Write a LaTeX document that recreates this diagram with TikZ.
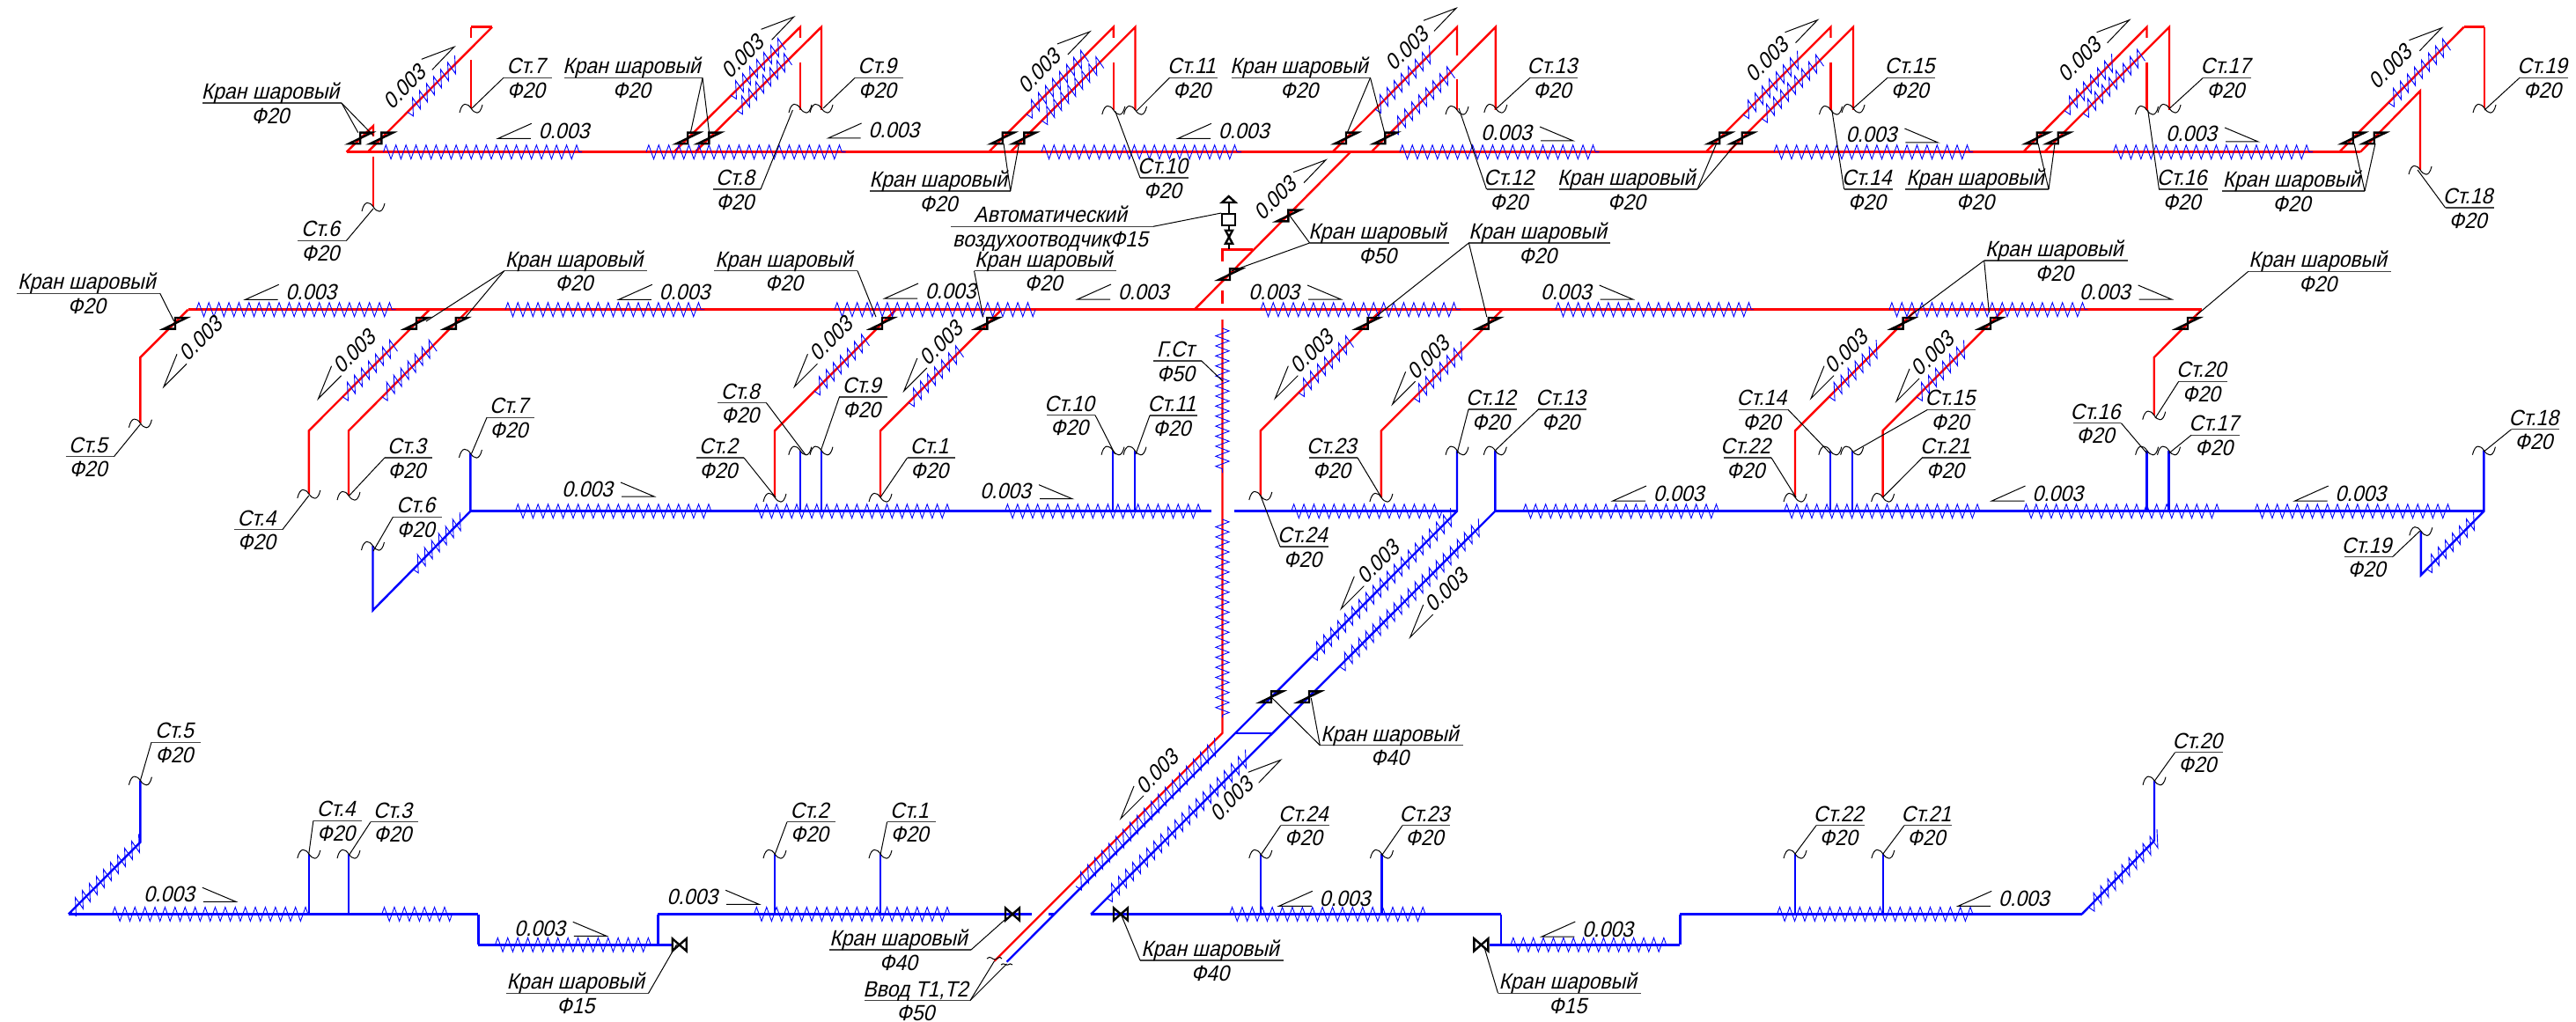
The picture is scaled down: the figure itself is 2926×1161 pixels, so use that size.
\documentclass[tikz,border=0pt]{standalone}
\usepackage{fontspec}
\usepackage{graphicx}
\setmainfont[FakeSlant=0.25]{Liberation Sans}
\usetikzlibrary{decorations.pathmorphing}
\newcounter{nn}
\definecolor{pr}{RGB}{255,0,0}
\definecolor{pb}{RGB}{0,0,255}
\newcommand\KS{Кран шаровый}
\newcommand\SL{\scalebox{0.92}[1]{0.003}}
\tikzset{
 rm/.style={pr,line width=3.4pt},
 rt/.style={pr,line width=2.4pt},
 bm/.style={pb,line width=3.4pt},
 bt/.style={pb,line width=2.4pt},
 hatch/.style={pb,line width=0.9pt},
 leader/.style={black,line width=1pt},
 shelfl/.style={black!75,line width=1.5pt},
 valve/.style={black,line width=2.4pt},
 txt/.style={inner sep=0pt,outer sep=0pt,text=black,font=\fontsize{25}{29}\selectfont},
}
% pipes of the top row
\newcommand\pL[2]{\draw[rt] (#1,172.7) -- (#2,30.7) -- (#2,43); \draw[rt] (#2,70.7) -- (#2,125);}
\newcommand\pR[2]{\draw[rt] (#1,172.7) -- (#2,30.7) -- (#2,125);}
% zigzags
\newcommand\zzh[3]{\draw[hatch,decorate,decoration={zigzag,segment length=11.4pt,amplitude=8pt}] (#1,#3) -- (#2,#3);}
\newcommand\zzv[3]{\draw[hatch,decorate,decoration={zigzag,segment length=11.4pt,amplitude=7.6pt}] (#1,#2) -- (#1,#3);}
\newcommand\zzd[3]{\pgfmathtruncatemacro\zn{round((#3-#1)/4)}%
 \draw[hatch] (#1,#2) \foreach \zi in {1,...,\zn}{ -- ({#1+\zi*4+2.5*(2*mod(\zi,2)-1)},{#2-\zi*4+8.5*(2*mod(\zi,2)-1)}) };}
% valves
\newcommand\vz[2]{\draw[valve,shift={(#1,#2)}] (13,-6.3) -- (0,-6.3) -- (0,6.3) -- (-13,6.3) -- cycle;}
\newcommand\vb[2]{\draw[valve,shift={(#1,#2)}] (-8,-7) -- (-8,7) -- (8,-7) -- (8,7) -- cycle;}
% pipe break
\newcommand\brk[2]{\draw[leader,shift={(#1,#2)}] (-13,5) .. controls (-10,-8) and (-4,-6) .. (0,0) .. controls (4,6) and (10,9) .. (13,-4);}
% shelf with two texts
\newcommand\shelf[6]{\coordinate (#1-l) at (#2,#4); \coordinate (#1-r) at (#3,#4);
 \draw[shelfl] (#1-l) -- (#1-r);
 \node[txt,anchor=base] (#1-t) at ({(#2+#3)/2-2},#4-4.5) {\scalebox{0.92}[1]{#5}};
 \node[txt,anchor=base] (#1-b) at ({(#2+#3)/2-2},#4+23.2) {\scalebox{0.92}[1]{#6}};}
\newcommand\lead[3]{\stepcounter{nn}\coordinate (e\arabic{nn}) at (#2,#3); \draw[leader] (#1) -- (e\arabic{nn});}
% slope marks
\newcommand\slL[2]{\stepcounter{nn}\draw[leader] (#1+38,#2-17) -- (#1,#2) -- (#1+37,#2);
 \node[txt,anchor=base west] (s\arabic{nn}) at (#1+46,#2) {\SL};}
\newcommand\slR[2]{\stepcounter{nn}\draw[leader] (#1-38,#2-16) -- (#1,#2) -- (#1-37,#2);
 \node[txt,anchor=base east] (s\arabic{nn}) at (#1-47,#2) {\SL};}
\newcommand\sdU[4]{\stepcounter{nn}\draw[leader] (#1-37,#2+14) -- (#1,#2) -- (#1-25,#2+26);
 \node[txt,rotate=45] (s\arabic{nn}) at (#3,#4) {\SL};}
\newcommand\sdD[4]{\stepcounter{nn}\draw[leader] (#1+15,#2-37) -- (#1,#2) -- (#1+26,#2-26);
 \node[txt,rotate=45] (s\arabic{nn}) at (#3,#4) {\SL};}
\begin{document}
\begin{tikzpicture}[x=1pt,y=-1pt,line join=miter]
\fill[white] (0,0) rectangle (2926,1161);
\useasboundingbox (0,0) rectangle (2926,1161);
% ===== top row: pipes
\draw[rm] (393.5,172.7) -- (2681,172.7);
\draw[rt] (393.5,172.7) -- (424,143) -- (424,155);
\draw[rt] (424,178) -- (424,235);
\draw[rt] (417.7,172.7) -- (559,30.7);
\draw[rm] (559,30.7) -- (535,30.7);
\draw[rt] (535,30.7) -- (535,43);
\draw[rt] (535,68.5) -- (535,123);
\pL{765.5}{909}\pR{789.6}{933}
\pL{1123}{1264.8}\pR{1147.7}{1289.5}
\draw[rt] (1513.4,172.7) -- (1655,30.7) -- (1655,63);
\draw[rt] (1655,90) -- (1655,125);
\pR{1557.6}{1698.8}
\pL{1937.5}{2079.5}\pR{1963}{2105}
\pL{2298}{2438.5}\pR{2322}{2464}
\draw[rt] (2657,172.7) -- (2798.7,30.7);
\draw[rm] (2798.7,30.7) -- (2822,30.7);
\draw[rt] (2822,30.7) -- (2822,123);
\draw[rt] (2681,172.7) -- (2749,103.3) -- (2749,193);
% main riser
\draw[rt] (1356.7,351.7) -- (1534,172.7);
\draw[rt] (1423.3,283.3) -- (1388.5,283.3) -- (1388.5,297);
\draw[rt] (1388.5,330) -- (1388.5,345);
\draw[rt] (1388.5,363) -- (1388.5,832.7) -- (1129.5,1091.7);
% ===== second row: red
\draw[rm] (213.6,351.7) -- (2500.8,351.7);
\draw[rt] (213.6,351.7) -- (159.4,406) -- (159.4,480.7);
\draw[rt] (487.9,351.7) -- (350.8,489.3) -- (350.8,561);
\draw[rt] (532.5,351.7) -- (396,489.3) -- (396,563);
\draw[rt] (1017.6,351.7) -- (880,489.3) -- (880,565);
\draw[rt] (1137.6,351.7) -- (1000,489.3) -- (1000,565);
\draw[rt] (1569.4,351.7) -- (1431.8,489.3) -- (1431.8,563);
\draw[rt] (1706.5,351.7) -- (1568.9,489.3) -- (1568.9,565);
\draw[rt] (2176.6,351.7) -- (2039,489.3) -- (2039,565);
\draw[rt] (2276.2,351.7) -- (2138.6,489.3) -- (2138.6,565);
\draw[rt] (2500.8,351.7) -- (2446.7,406) -- (2446.7,471.7);
% ===== third row: blue
\draw[bm] (534.4,580.7) -- (1376.3,580.7);
\draw[bm] (1401.8,580.7) -- (1655,580.7);
\draw[bm] (1698.3,580.7) -- (2821.4,580.7);
\draw[bt] (534.4,515) -- (534.4,580.7) -- (423.5,693.3) -- (423.5,620);
\foreach \px in {908.8,933,1264,1289,2078.8,2103.7,2438.6,2463.5} {\draw[bt] (\px,511.7) -- (\px,580.7);}
\draw[bt] (1655,511.7) -- (1655,580.7) -- (1143.5,1092.7);
\draw[bt] (1698.3,511.7) -- (1698.3,580.7) -- (1239,1038.7);
\draw[bt] (1403,832.7) -- (1446,832.7);
\draw[bt] (2821.4,511.7) -- (2821.4,580.7) -- (2749.8,653.3) -- (2749.8,603.3);
% ===== bottom row: blue
\draw[bm] (77.8,1038.5) -- (543.4,1038.5);
\draw[bt] (543.4,1038.5) -- (543.4,1073.3);
\draw[bm] (543.4,1073.3) -- (765,1073.3);
\draw[bt] (747.4,1073.3) -- (747.4,1038.5);
\draw[bm] (747.4,1038.5) -- (1172,1038.5);
\draw[bm] (1191,1038.5) -- (1197,1038.5);
\draw[bt] (77.8,1038.5) -- (159.4,956.7) -- (159.4,886.7);
\foreach \px in {350.8,396,880,1000,1431.8,1569.5,2039,2138.8} {\draw[bt] (\px,970) -- (\px,1038.5);}
\draw[bm] (1239,1038.5) -- (1704.7,1038.5);
\draw[bt] (1704.7,1038.5) -- (1704.7,1073.3);
\draw[bm] (1692,1073.3) -- (1908.4,1073.3);
\draw[bt] (1908.4,1073.3) -- (1908.4,1038.5);
\draw[bm] (1908.4,1038.5) -- (2364.6,1038.5);
\draw[bt] (2364.6,1038.5) -- (2447,955) -- (2447,886.7);
% ===== zigzags
\foreach \a/\b in {435.5/661,734/960.7,1183/1410,1590/1816.5,2015/2241,2400.5/2627} {\zzh{\a}{\b}{172.7}}
\foreach \a/\b in {223/449.6,574/800.4,948/1176,1432/1659,1767/1992,2146/2371.4} {\zzh{\a}{\b}{351.7}}
\foreach \a/\b in {585.5/811.2,856.5/1083,1141.6/1368.6,1466.8/1640,1730/1955,2026.6/2253,2298.6/2525.8,2561/2787} {\zzh{\a}{\b}{580.7}}
\foreach \a/\b in {127.6/352.7,433.7/518.5,856.5/1081.6,1396.7/1623.7,2018.6/2246} {\zzh{\a}{\b}{1038.5}}
\foreach \a/\b in {562.5/743,1716/1898} {\zzh{\a}{\b}{1073.3}}
\zzv{1388.5}{373}{537}
\zzv{1388.5}{590}{815}
\zzd{463}{127.4}{520.7}
\zzd{830}{108}{889}\zzd{837}{125.3}{895}
\zzd{1166}{129.7}{1235}\zzd{1183.3}{137}{1252}
\zzd{1562}{124}{1625}\zzd{1582}{148.3}{1648}
\zzd{1980}{130.2}{2043}\zzd{2001}{134.7}{2070}
\zzd{2345}{125.7}{2402}\zzd{2366}{128.7}{2432}
\zzd{2713}{116.7}{2779}
\zzd{389}{450.6}{449.6}\zzd{433.7}{450.6}{494}
\zzd{925}{444.3}{985}\zzd{1032}{457.3}{1092}
\zzd{1475}{446}{1536}\zzd{1606}{452.3}{1663}
\zzd{2077.6}{450.7}{2133.6}\zzd{2177}{450.9}{2233}
\zzd{468.7}{646.4}{526}\zzd{2756}{646}{2812}
\zzd{1490}{745.7}{1648}\zzd{1521.7}{757.3}{1680}
\zzd{1222}{1006.7}{1380}\zzd{1257}{1020}{1416}
\zzd{80}{1036}{159}\zzd{2372.5}{1030.7}{2453}
% ===== valves
\foreach \px in {409.2,433.4,781.2,805.3,1138.7,1163.4,1529,1573.3,1953.2,1978.7,2313.7,2337.7,2672.7,2696.7} {\vz{\px}{157}}
\foreach \px in {199,473,517.9,1002,1121.3,1553.6,1690.7,2161.6,2261,2485} {\vz{\px}{367.3}}
\vz{1463.4}{245}\vz{1397}{311.7}\vz{1444}{791.7}\vz{1487}{791.7}
\vb{771.7}{1073.3}\vb{1150}{1038.5}\vb{1273}{1038.5}\vb{1682.4}{1073.3}
% air vent
\draw[valve] (1395.7,283) -- (1395.7,276.7);
\draw[valve] (1392,261.7) -- (1400,261.7) -- (1392,276.7) -- (1400,276.7) -- cycle;
\draw[valve] (1395.7,261.7) -- (1395.7,256);
\node[draw=black,line width=2pt,minimum width=15pt,minimum height=13pt,inner sep=0pt] (vent) at (1395.7,249.5) {};
\draw[valve] (1395.7,243) -- (1395.7,230);
\draw[valve] (1388,230) -- (1403.3,230) -- (1395.7,223) -- cycle;
% ===== breaks
\foreach \px/\py in {424/235,535/123,909/123,933/123,1264.8/125,1289.5/125,1655/125,1698.8/123,2079.5/125,2105/123,2438.5/125,2464/123,2822/123,2749/193,
 159.4/480.7,350.8/561,396/563,880/565,1000/565,1431.8/563,1568.9/565,2039/565,2138.6/565,2446.7/471.7,
 534.4/515,423.5/620,908.8/511.7,933/511.7,1264/511.7,1289/511.7,1655/511.7,1698.3/511.7,2078.8/511.7,2103.7/511.7,2438.6/511.7,2463.5/511.7,2821.4/511.7,2749.8/603.3,
 159.4/886.7,350.8/970,396/970,880/970,1000/970,1431.8/970,1569.5/970,2039/970,2138.8/970,2447/886.7} {\brk{\px}{\py}}
\draw[leader] (1121,1089) .. controls (1125,1085) and (1127,1090) .. (1130,1090) .. controls (1133,1090) and (1135,1085) .. (1138,1089);
\draw[leader] (1137,1096) .. controls (1140,1093) and (1142,1097) .. (1145,1096) .. controls (1147,1095) and (1148,1094) .. (1150,1096);
% ===== slope marks
\slL{565.8}{157.3}\slL{940.6}{157}\slL{1338}{157.3}\slR{1787}{160}\slR{2201.4}{162}\slR{2565}{161}
\slL{278.7}{340.3}\slL{702.8}{340.3}\slL{1005}{339}\slL{1224}{340}\slR{1523}{340}\slR{1854.6}{340}\slR{2466.6}{340}
\slR{743}{564}\slR{1218}{566.7}\slL{1832}{569}\slL{2262.5}{569}\slL{2606.7}{569}
\slR{267.9}{1024.3}\slR{688.8}{1063.3}\slR{862.2}{1027.3}\slL{1452.8}{1029.3}\slL{1751.3}{1064}\slL{2224.2}{1029.3}
\sdU{515.8}{53.3}{459.6}{98.7}
\sdU{901.6}{19.3}{843.6}{64.5}
\sdU{1237.9}{36}{1180.5}{81}
\sdU{1654}{9.3}{1597.8}{55.5}
\sdU{2064.5}{22.7}{2007}{67.7}
\sdU{2418.6}{22.7}{2362}{67.7}
\sdU{2773.4}{31.7}{2715}{76}
\sdU{1506}{181.7}{1448.5}{225.3}
\sdU{1454.7}{863.3}{1398.6}{907.7}
\sdD{186}{439.3}{227.7}{385}
\sdD{361.6}{452.7}{402.4}{399.3}
\sdD{902.4}{439.3}{943.9}{385}
\sdD{1026.8}{444}{1069}{390}
\sdD{1448.3}{452.7}{1489.8}{399.3}
\sdD{1581.6}{459.3}{1622.4}{406.3}
\sdD{2057}{452.7}{2096.9}{399.3}
\sdD{2154}{456}{2195.2}{401.7}
\sdD{1523.3}{691.7}{1565.3}{638.3}
\sdD{1601.7}{724}{1642.7}{670.3}
\sdD{1273}{930}{1314.4}{877}
% ===== labels: top row
\shelf{a1}{230}{388}{117}{\KS}{Ф20}
\lead{a1-r}{406.8}{150.7}\lead{a1-r}{424}{154}
\shelf{a2}{572}{627}{88.3}{Ст.7}{Ф20}\lead{a2-l}{536}{123}
\shelf{a3}{641}{798}{88.5}{\KS}{Ф20}
\lead{a3-r}{784.5}{150}\lead{a3-r}{805.7}{152}
\shelf{a4}{971}{1025.6}{88.5}{Ст.9}{Ф20}\lead{a4-l}{935}{123}
\shelf{a5}{810}{864}{215}{Ст.8}{Ф20}\lead{a5-r}{900.4}{125}
\shelf{a6}{338.4}{393.5}{273.3}{Ст.6}{Ф20}\lead{a6-r}{424}{237}
\shelf{a7}{988}{1147.7}{217}{\KS}{Ф20}
\lead{a7-r}{1140}{163}\lead{a7-r}{1157.5}{163}
\shelf{a8}{1328.6}{1382.5}{88.3}{Ст.11}{Ф20}\lead{a8-l}{1291}{126}
\shelf{a9}{1295}{1350}{202}{Ст.10}{Ф20}\lead{a9-l}{1266.6}{126}
\shelf{a10}{1398.6}{1556.5}{88.3}{\KS}{Ф20}
\lead{a10-r}{1530.6}{150}\lead{a10-r}{1572.5}{150}
\shelf{a11}{1738}{1792}{88.3}{Ст.13}{Ф20}\lead{a11-l}{1700}{123}
\shelf{a12}{1688.5}{1743}{215}{Ст.12}{Ф20}\lead{a12-l}{1657}{123}
\shelf{a13}{1770.6}{1928}{215}{\KS}{Ф20}
\lead{a13-r}{1949.7}{163}\lead{a13-r}{1972}{163}
\shelf{a14}{2144}{2198.4}{88.3}{Ст.15}{Ф20}\lead{a14-l}{2105}{123}
\shelf{a15}{2094.6}{2150}{215}{Ст.14}{Ф20}\lead{a15-l}{2080.8}{125}
\shelf{a16}{2164}{2327}{215}{\KS}{Ф20}
\lead{a16-r}{2315}{163}\lead{a16-r}{2334}{163}
\shelf{a17}{2502.5}{2557.4}{88.3}{Ст.17}{Ф20}\lead{a17-l}{2464.5}{123}
\shelf{a18}{2452.4}{2508}{215}{Ст.16}{Ф20}\lead{a18-l}{2439.7}{125}
\shelf{a19}{2524}{2686}{217}{\KS}{Ф20}
\lead{a19-r}{2674}{163}\lead{a19-r}{2698}{163}
\shelf{a20}{2862}{2917}{88.3}{Ст.19}{Ф20}\lead{a20-l}{2822}{125}
\shelf{a21}{2777.6}{2832.5}{236}{Ст.18}{Ф20}\lead{a21-l}{2746}{193}
% air vent and riser valves
\shelf{v1}{1080}{1310}{257.3}{Автоматический}{воздухоотводчикФ15}
\draw[leader] (v1-r) -- (vent.north west);
\shelf{v2}{1487.6}{1645.5}{276}{\KS}{Ф50}
\lead{v2-l}{1463.5}{243}\lead{v2-l}{1398.6}{308}
% ===== labels: second row
\shelf{b1}{19}{181.8}{333.3}{\KS}{Ф20}\lead{b1-r}{197.7}{365}
\shelf{b2}{74.6}{129.5}{518.7}{Ст.5}{Ф20}\lead{b2-r}{159.4}{482}
\shelf{b3}{572.7}{735.3}{307.7}{\KS}{Ф20}
\lead{b3-l}{484}{365}\lead{b3-l}{529}{360}
\shelf{b4}{811}{974}{307.7}{\KS}{Ф20}\lead{b4-r}{995}{360}
\shelf{b5}{1106.5}{1268}{307.7}{\KS}{Ф20}\lead{b5-l}{1116.7}{360}
\shelf{b6}{1668.4}{1829}{276}{\KS}{Ф20}
\lead{b6-l}{1560}{362}\lead{b6-l}{1688.8}{360}
\shelf{b7}{2253.7}{2416.8}{296}{\KS}{Ф20}
\lead{b7-l}{2167.8}{360}\lead{b7-l}{2259.3}{355}
\shelf{b8}{2553.8}{2715.6}{308.3}{\KS}{Ф20}\lead{b8-l}{2495}{358}
% ===== labels: third row
\shelf{c1}{553}{607}{474.3}{Ст.7}{Ф20}\lead{c1-l}{535.7}{515}
\shelf{c2}{446.4}{502}{587.3}{Ст.6}{Ф20}\lead{c2-l}{424}{626}
\shelf{c3}{266}{320.8}{601.7}{Ст.4}{Ф20}\lead{c3-r}{350.8}{563}
\shelf{c4}{436.9}{491}{520}{Ст.3}{Ф20}\lead{c4-l}{396.7}{563}
\shelf{c5}{815}{870.5}{457.7}{Ст.8}{Ф20}\lead{c5-r}{915}{516.7}
\shelf{c6}{953.4}{1008}{451}{Ст.9}{Ф20}\lead{c6-l}{932.4}{511.7}
\shelf{c7}{790.8}{845}{520}{Ст.2}{Ф20}\lead{c7-r}{881}{565}
\shelf{c8}{1030.6}{1084.8}{520}{Ст.1}{Ф20}\lead{c8-l}{1000}{565}
\shelf{c9}{1189.4}{1244}{471.7}{Ст.10}{Ф20}\lead{c9-r}{1266.6}{516}
\shelf{c10}{1306}{1360}{472}{Ст.11}{Ф20}\lead{c10-l}{1290}{516}
\shelf{c11}{1310}{1364.8}{410}{Г.Ст}{Ф50}\lead{c11-r}{1389}{433}
\shelf{c12}{1486.6}{1542}{520}{Ст.23}{Ф20}\lead{c12-r}{1569}{565}
\shelf{c13}{1454}{1509}{621}{Ст.24}{Ф20}\lead{c13-l}{1431.8}{563}
\shelf{c14}{1668}{1722.6}{465}{Ст.12}{Ф20}\lead{c14-l}{1655}{515}
\shelf{c15}{1747.4}{1802}{465}{Ст.13}{Ф20}\lead{c15-l}{1698.3}{511.7}
\shelf{c16}{1957.5}{2012}{520}{Ст.22}{Ф20}\lead{c16-r}{2040}{565}
\shelf{c17}{1975}{2031}{465.3}{Ст.14}{Ф20}\lead{c17-r}{2078.8}{515}
\shelf{c18}{2189.6}{2244.4}{465.3}{Ст.15}{Ф20}\lead{c18-l}{2105.6}{513}
\shelf{c19}{2183.4}{2239.4}{520}{Ст.21}{Ф20}\lead{c19-l}{2138.6}{565}
\shelf{c20}{2474.7}{2530}{433.3}{Ст.20}{Ф20}\lead{c20-l}{2448}{475}
\shelf{c21}{2354.6}{2409.4}{480.7}{Ст.16}{Ф20}\lead{c21-r}{2438.6}{515}
\shelf{c22}{2489}{2544.4}{494.3}{Ст.17}{Ф20}\lead{c22-l}{2463.5}{515}
\shelf{c23}{2852.6}{2907.3}{487.7}{Ст.18}{Ф20}\lead{c23-l}{2821.4}{513}
\shelf{c24}{2662.7}{2717.5}{632.7}{Ст.19}{Ф20}\lead{c24-r}{2748.6}{603.3}
\shelf{c25}{1499.3}{1661.7}{846.7}{\KS}{Ф40}
\lead{c25-l}{1445}{793}\lead{c25-l}{1489.3}{793}
% ===== labels: bottom row
\shelf{d1}{172}{228}{843.3}{Ст.5}{Ф20}\lead{d1-l}{159.4}{886.7}
\shelf{d2}{355.9}{411.4}{932.3}{Ст.4}{Ф20}\lead{d2-l}{350.8}{970}
\shelf{d3}{421}{475}{933.7}{Ст.3}{Ф20}\lead{d3-l}{396.7}{971}
\shelf{d4}{894}{949}{933.7}{Ст.2}{Ф20}\lead{d4-l}{880}{971}
\shelf{d5}{1007.6}{1062.5}{933.7}{Ст.1}{Ф20}\lead{d5-l}{1000}{971}
\shelf{d6}{575}{736.6}{1128.3}{\KS}{Ф15}\lead{d6-r}{768.5}{1073}
\shelf{d7}{942}{1103}{1079}{\KS}{Ф40}\lead{d7-r}{1143.5}{1043}
\shelf{d8}{982}{1102}{1136.5}{Ввод Т1,Т2}{Ф50}
\lead{d8-r}{1129.5}{1091.7}\lead{d8-r}{1143.5}{1095}
\shelf{d9}{1295}{1458}{1091}{\KS}{Ф40}\lead{d9-l}{1273}{1038}
\shelf{d10}{1454.7}{1510}{937.7}{Ст.24}{Ф20}\lead{d10-l}{1431.8}{971.7}
\shelf{d11}{1593}{1647}{937.7}{Ст.23}{Ф20}\lead{d11-l}{1569.5}{971.7}
\shelf{d12}{1701.5}{1864}{1128.3}{\KS}{Ф15}\lead{d12-l}{1685.6}{1075}
\shelf{d13}{2063}{2117.5}{937.7}{Ст.22}{Ф20}\lead{d13-l}{2039}{970}
\shelf{d14}{2163}{2217}{937.7}{Ст.21}{Ф20}\lead{d14-l}{2138.8}{970}
\shelf{d15}{2470.6}{2525}{854.7}{Ст.20}{Ф20}\lead{d15-l}{2447.6}{886.7}
\end{tikzpicture}
\end{document}
